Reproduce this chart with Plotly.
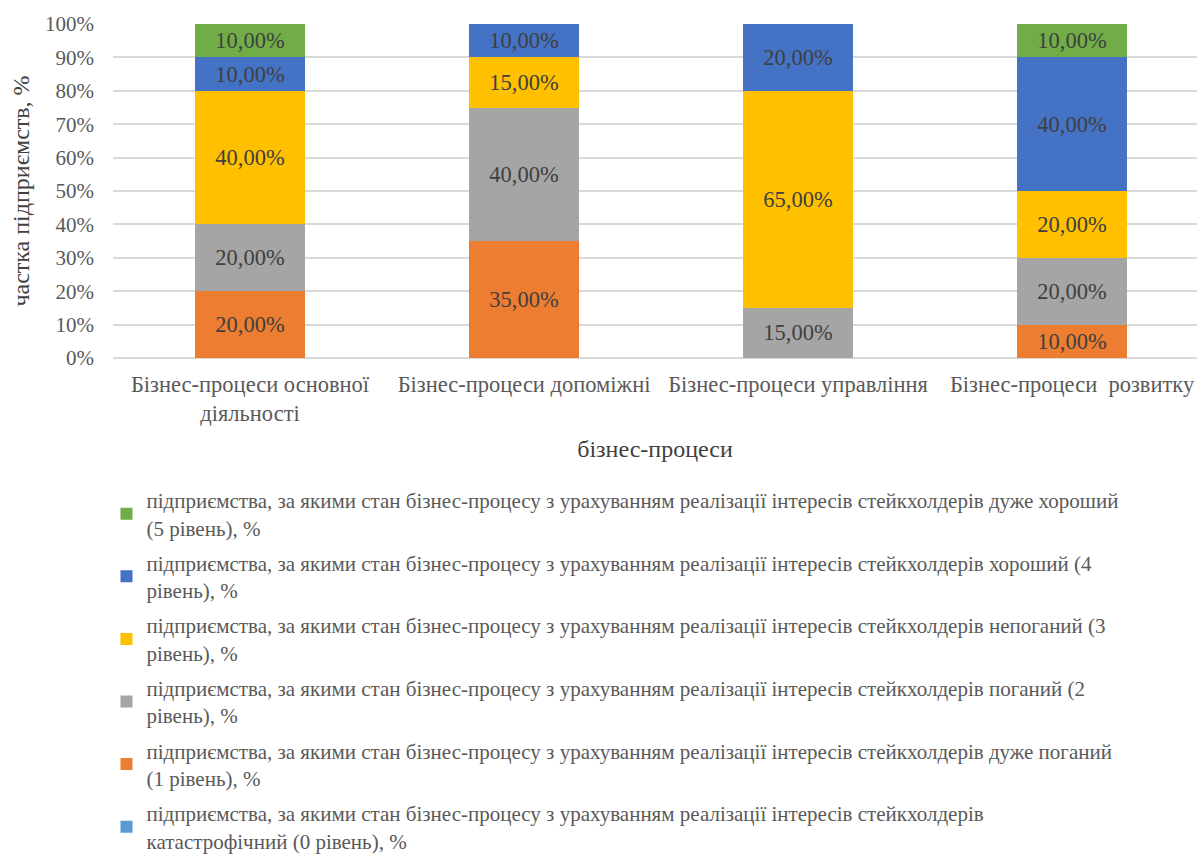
import plotly.graph_objects as go

categories = [
    "Бізнес-процеси основної<br>діяльності",
    "Бізнес-процеси допоміжні",
    "Бізнес-процеси управління",
    "Бізнес-процеси  розвитку",
]

level0 = [0, 0, 0, 0]
level1 = [20, 35, 0, 10]
level2 = [20, 40, 15, 20]
level3 = [40, 15, 65, 20]
level4 = [10, 10, 20, 40]
level5 = [10, 0, 0, 10]

prefix = "підприємства, за якими стан бізнес-процесу з урахуванням реалізації інтересів стейкхолдерів"
series_names = [
    prefix + "<br>катастрофічний (0 рівень), %",
    prefix + " дуже поганий<br>(1 рівень), %",
    prefix + " поганий (2<br>рівень), %",
    prefix + " непоганий (3<br>рівень), %",
    prefix + " хороший (4<br>рівень), %",
    prefix + " дуже хороший<br>(5 рівень), %",
]
series_values = [level0, level1, level2, level3, level4, level5]
series_colors = ["#5B9BD5", "#ED7D31", "#A5A5A5", "#FFC000", "#4472C4", "#70AD47"]

FONT = "Liberation Serif"
TEXT_COLOR = "#595959"


def label(v):
    return (f"{v:.2f}".replace(".", ",") + "%") if v > 0 else ""


fig = go.Figure()
n = len(series_names)
for i, (name, vals, color) in enumerate(zip(series_names, series_values, series_colors)):
    fig.add_trace(go.Bar(
        x=categories,
        y=vals,
        name=name,
        legendgroup=f"g{i}",
        legendrank=n - i,  # highest level listed first
        marker=dict(color=color, line=dict(width=0)),
        text=[label(v) for v in vals],
        textposition="inside",
        insidetextanchor="middle",
        textangle=0,
        constraintext="none",
        textfont=dict(family=FONT, size=22.5, color="#404040"),
        width=0.4,
        hoverinfo="skip",
    ))

fig.update_layout(
    barmode="stack",
    width=1197,
    height=861,
    margin=dict(l=113, r=0, t=24, b=501),
    paper_bgcolor="white",
    plot_bgcolor="white",
    font=dict(family=FONT, size=21, color=TEXT_COLOR),
    uniformtext=dict(minsize=22, mode="show"),
    showlegend=True,
    legend=dict(
        traceorder="grouped",
        orientation="v",
        x=-0.006,
        xanchor="left",
        y=-0.365,
        yanchor="top",
        font=dict(family=FONT, size=21, color=TEXT_COLOR),
        tracegroupgap=5,
        itemclick=False,
    ),
    xaxis=dict(
        range=[-0.5, 3.456],
        showgrid=False,
        showline=False,
        ticks="",
        ticklabelstandoff=10,
        tickfont=dict(family=FONT, size=22.5, color=TEXT_COLOR),
        title=dict(text="бізнес-процеси", font=dict(family=FONT, size=24, color="#404040"), standoff=15),
    ),
    yaxis=dict(
        range=[0, 100],
        tickvals=[0, 10, 20, 30, 40, 50, 60, 70, 80, 90, 100],
        ticktext=["0%", "10%", "20%", "30%", "40%", "50%", "60%", "70%", "80%", "90%", "100%"],
        showgrid=True,
        gridcolor="#D9D9D9",
        gridwidth=1.5,
        zeroline=True,
        zerolinecolor="#D9D9D9",
        zerolinewidth=1.5,
        ticks="",
        ticklabelstandoff=18,
        tickfont=dict(family=FONT, size=21, color=TEXT_COLOR),
        title=dict(text="частка підприємств, %", font=dict(family=FONT, size=24, color="#404040"), standoff=8),
    ),
)

fig.write_html("out.html")
